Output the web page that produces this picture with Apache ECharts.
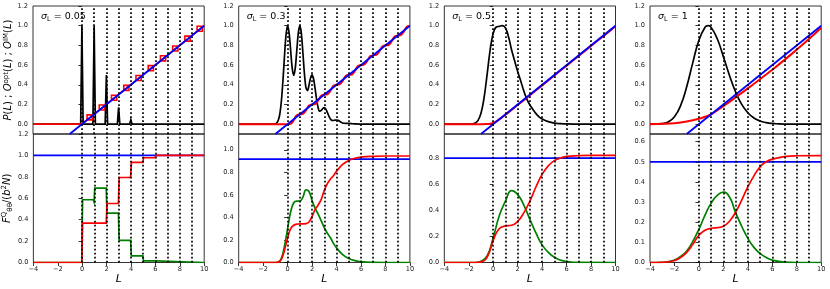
<!DOCTYPE html>
<html><head><meta charset="utf-8">
<script src="https://cdn.jsdelivr.net/npm/echarts@6/dist/echarts.min.js"></script>
<style>html,body{margin:0;padding:0;background:#fff}#c{width:830px;height:289px}</style>
</head><body><div id="c"></div>
<script>
// ---------- data ----------
const sigmaLabels = ['0.05', '0.3', '0.5', '1'];
const dottedL = [0, 1, 2, 3, 4, 5, 6, 7, 8, 9];
const topYTicks = [0, 0.2, 0.4, 0.6, 0.8, 1.0, 1.2];
const bottomYMax = [1.2, 1.14, 0.984, 0.638];
const bottomYTicks = [
  [0, 0.2, 0.4, 0.6, 0.8, 1.0, 1.2],
  [0, 0.2, 0.4, 0.6, 0.8, 1.0],
  [0, 0.2, 0.4, 0.6, 0.8],
  [0, 0.1, 0.2, 0.3, 0.4, 0.5, 0.6]
];

// O^IM(L) (blue, top panels)
const blueTopL = [-1, 10];
const blueTopV = [-0.1, 1.0];
// blue levels in bottom panels
const blueBottomL = [-4, 10];
const blueBottomV = [1.0, 0.917, 0.80, 0.50];

// ----- sigma = 0.05 -----
const black1L = [-4, -0.1, 0, 0.1, 0.9, 1, 1.1, 1.9, 2, 2.1, 2.9, 3, 3.1, 3.9, 4, 4.1, 4.9, 5, 5.1, 10];
const black1V = [0, 0, 1.0, 0, 0, 1.0, 0, 0, 0.5, 0, 0, 0.17, 0, 0, 0.045, 0, 0, 0.01, 0, 0];
const red1L = [-4, 0,
  0.42, 0.85, 0.85, 0.42, 0.42,
  1.42, 1.85, 1.85, 1.42, 1.42,
  2.42, 2.85, 2.85, 2.42, 2.42,
  3.42, 3.85, 3.85, 3.42, 3.42,
  4.42, 4.85, 4.85, 4.42, 4.42,
  5.42, 5.85, 5.85, 5.42, 5.42,
  6.42, 6.85, 6.85, 6.42, 6.42,
  7.42, 7.85, 7.85, 7.42, 7.42,
  8.42, 8.85, 8.85, 8.42, 8.42,
  9.42, 9.85, 9.85, 9.42, 9.42,
  10];
const red1V = [0, 0,
  0.043, 0.043, 0.094, 0.094, 0.043,
  0.143, 0.143, 0.194, 0.194, 0.143,
  0.243, 0.243, 0.294, 0.294, 0.243,
  0.343, 0.343, 0.394, 0.394, 0.343,
  0.443, 0.443, 0.494, 0.494, 0.443,
  0.543, 0.543, 0.594, 0.594, 0.543,
  0.643, 0.643, 0.694, 0.694, 0.643,
  0.743, 0.743, 0.794, 0.794, 0.743,
  0.843, 0.843, 0.894, 0.894, 0.843,
  0.943, 0.943, 0.994, 0.994, 0.943,
  1.0];
const green1bL = [-4, -0.03, 0.03, 0.9, 0.97, 1.03, 1.97, 2.03, 2.97, 3.03, 3.97, 4.03, 4.97, 5.03, 5.97, 6.03, 10];
const green1bV = [0, 0, 0.586, 0.586, 0.565, 0.695, 0.695, 0.461, 0.461, 0.206, 0.206, 0.062, 0.062, 0.016, 0.016, 0.0, 0];
const red1bL = [-4, -0.03, 0.03, 1.97, 2.03, 2.97, 3.03, 3.97, 4.03, 4.97, 5.03, 5.97, 6.03, 10];
const red1bV = [0, 0, 0.368, 0.368, 0.551, 0.551, 0.794, 0.794, 0.935, 0.935, 0.978, 0.978, 1.0, 1.0];

// ----- sigma = 0.3 -----
const black2L = [-4, -1.25, -1, -0.875, -0.75, -0.625, -0.5, -0.375, -0.25, -0.125, 0, 0.125, 0.25, 0.375, 0.5, 0.625, 0.75, 0.875, 1,
  1.125, 1.25, 1.375, 1.5, 1.625, 1.75, 1.875, 2, 2.125, 2.25, 2.375, 2.5, 2.625, 2.75, 2.875, 3, 3.125, 3.25, 3.375, 3.5,
  3.625, 3.75, 3.875, 4, 4.125, 4.25, 4.375, 4.5, 4.625, 4.75, 4.875, 5, 5.25, 5.5, 6, 7, 10];
const black2V = [0, 0, 0.004, 0.014, 0.044, 0.113, 0.248, 0.455, 0.703, 0.912, 0.998, 0.925, 0.747, 0.569, 0.495, 0.569, 0.747, 0.926, 1.0,
  0.920, 0.725, 0.512, 0.371, 0.341, 0.396, 0.470, 0.501, 0.459, 0.359, 0.247, 0.165, 0.132, 0.139, 0.159, 0.168, 0.153, 0.119, 0.081, 0.052,
  0.038, 0.037, 0.041, 0.042, 0.038, 0.030, 0.020, 0.012, 0.009, 0.008, 0.008, 0.008, 0.005, 0.002, 0.001, 0, 0];
const red2L = [-4, -0.25, 0, 0.25, 0.5, 0.75, 1, 1.25, 1.5, 1.75, 2, 2.25, 2.5, 2.75, 3, 3.25, 3.5, 3.75, 4, 4.25, 4.5, 4.75,
  5, 5.25, 5.5, 5.75, 6, 6.25, 6.5, 6.75, 7, 7.25, 7.5, 7.75, 8, 8.25, 8.5, 8.75, 9, 9.25, 9.5, 9.75, 10];
const red2V = [0, 0, 0, 0.004, 0.04, 0.09, 0.1, 0.104, 0.14, 0.19, 0.2, 0.204, 0.24, 0.29, 0.3, 0.304, 0.34, 0.39, 0.4, 0.404, 0.44, 0.49,
  0.5, 0.504, 0.54, 0.59, 0.6, 0.604, 0.64, 0.69, 0.7, 0.704, 0.74, 0.79, 0.8, 0.804, 0.84, 0.89, 0.9, 0.904, 0.94, 0.99, 1.0];
const green2bL = [-4, -1, -0.75, -0.5, -0.25, 0, 0.25, 0.5, 0.75, 1, 1.25, 1.5, 1.75, 2, 2.25, 2.5, 2.75, 3, 3.25, 3.5, 3.75, 4, 4.5, 5, 5.5, 6, 7, 8, 10];
const green2bV = [0, 0, 0.005, 0.04, 0.15, 0.30, 0.45, 0.53, 0.545, 0.545, 0.58, 0.645, 0.63, 0.55, 0.48, 0.43, 0.37, 0.31, 0.26, 0.22, 0.17, 0.13, 0.07, 0.035, 0.017, 0.007, 0.001, 0, 0];
const red2bL = [-4, -1, -0.75, -0.5, -0.25, 0, 0.25, 0.5, 0.75, 1, 1.5, 1.75, 2, 2.25, 2.5, 2.75, 3, 3.25, 3.5, 3.75, 4, 4.5, 5, 5.5, 6, 7, 8, 10];
const red2bV = [0, 0, 0.003, 0.03, 0.11, 0.22, 0.30, 0.33, 0.34, 0.342, 0.345, 0.36, 0.41, 0.47, 0.51, 0.56, 0.64, 0.70, 0.74, 0.77, 0.81, 0.87, 0.905, 0.925, 0.935, 0.942, 0.945, 0.945];

// ----- sigma = 0.5 -----
const black3L = [-4, -2, -1.75, -1.5, -1.25, -1, -0.75, -0.5, -0.25, 0, 0.25, 0.5, 0.75, 1, 1.25, 1.5, 1.75, 2, 2.25, 2.5, 2.75, 3, 3.25, 3.5, 3.75, 4, 4.5, 5, 5.5, 6, 7, 10];
const black3V = [0, 0, 0.002, 0.009, 0.036, 0.110, 0.266, 0.503, 0.754, 0.923, 0.987, 0.993, 1.0, 0.978, 0.887, 0.756, 0.644, 0.535, 0.439, 0.338, 0.255, 0.195, 0.149, 0.107, 0.075, 0.053, 0.026, 0.011, 0.005, 0.002, 0, 0];
const red3L = [-4, -1, -0.5, -0.25, 0, 0.25, 0.5, 1, 2, 3, 4, 5, 6, 7, 8, 9, 10];
const red3V = [0, 0, 0.001, 0.004, 0.012, 0.028, 0.048, 0.095, 0.194, 0.294, 0.394, 0.494, 0.594, 0.694, 0.794, 0.894, 0.994];
const green3bL = [-4, -1.5, -1, -0.5, 0, 0.5, 1, 1.5, 2, 2.5, 3, 3.5, 4, 4.5, 5, 5.5, 6, 7, 10];
const green3bV = [0, 0, 0.01, 0.05, 0.19, 0.36, 0.47, 0.55, 0.52, 0.44, 0.33, 0.225, 0.135, 0.078, 0.04, 0.018, 0.008, 0.001, 0];
const red3bL = [-4, -1.5, -1, -0.5, 0, 0.5, 1, 1.5, 2, 2.5, 3, 3.5, 4, 4.5, 5, 5.5, 6, 7, 8, 10];
const red3bV = [0, 0, 0.005, 0.04, 0.17, 0.26, 0.28, 0.285, 0.315, 0.38, 0.47, 0.58, 0.675, 0.74, 0.78, 0.80, 0.812, 0.818, 0.82, 0.82];

// ----- sigma = 1 -----
const black4L = [-4, -3.5, -3, -2.5, -2, -1.5, -1, -0.5, 0, 0.5, 0.75, 1, 1.5, 2, 2.5, 3, 3.5, 4, 4.5, 5, 5.5, 6, 6.5, 7, 8, 10];
const black4V = [0.0002, 0.0012, 0.006, 0.023, 0.075, 0.188, 0.380, 0.625, 0.852, 0.984, 1.0, 0.983, 0.867, 0.686, 0.494, 0.327, 0.201, 0.116, 0.063, 0.032, 0.016, 0.007, 0.003, 0.001, 0, 0];
const red4L = [-4, -3, -2, -1, 0, 0.5, 1, 2, 3, 4, 5, 6, 7, 8, 9, 10];
const red4V = [0, 0.003, 0.01, 0.027, 0.054, 0.075, 0.1, 0.183, 0.272, 0.363, 0.457, 0.553, 0.653, 0.757, 0.865, 0.98];
const green4bL = [-4, -3, -2.5, -2, -1.5, -1, -0.5, 0, 0.5, 1, 1.5, 2, 2.5, 3, 3.5, 4, 4.5, 5, 5.5, 6, 7, 8, 10];
const green4bV = [0, 0.001, 0.004, 0.012, 0.03, 0.057, 0.105, 0.165, 0.235, 0.295, 0.333, 0.349, 0.325, 0.248, 0.18, 0.12, 0.075, 0.045, 0.025, 0.012, 0.002, 0, 0];
const red4bL = [-4, -3, -2.5, -2, -1.5, -1, -0.5, 0, 0.5, 1, 1.5, 2, 2.5, 3, 3.5, 4, 4.5, 5, 5.5, 6, 7, 8, 10];
const red4bV = [0, 0.001, 0.003, 0.01, 0.025, 0.05, 0.09, 0.135, 0.16, 0.17, 0.173, 0.18, 0.205, 0.25, 0.31, 0.375, 0.43, 0.475, 0.50, 0.513, 0.526, 0.53, 0.531];

const topBlack = [[black1L, black1V, false], [black2L, black2V, 0.3], [black3L, black3V, 0.4], [black4L, black4V, 0.5]];
const topRed = [[red1L, red1V, false], [red2L, red2V, 0.4], [red3L, red3V, 0.3], [red4L, red4V, 0.4]];
const botGreen = [[green1bL, green1bV, false], [green2bL, green2bV, 0.4], [green3bL, green3bV, 0.5], [green4bL, green4bV, 0.5]];
const botRed = [[red1bL, red1bV, false], [red2bL, red2bV, 0.4], [red3bL, red3bV, 0.5], [red4bL, red4bV, 0.5]];

// ---------- layout / style ----------
const FONT = 'DejaVu Sans';
const lefts = [33, 238.7, 444.3, 650];
const W = 171.2;
const TOP_T = 6, TOP_H = 128, BOT_T = 134, BOT_H = 128.5;
const C_BLACK = '#000000', C_RED = '#ff0000', C_BLUE = '#0000ff', C_GREEN = '#008000';

const pairs = (xs, ys) => xs.map((x, i) => [x, ys[i]]);
const fmtNum = v => { const s = (Math.round(v * 10) / 10).toFixed(1); return s.replace('-', '\u2212'); };

const grids = [], xAxes = [], yAxes = [], series = [], graphics = [];

function lineSeries(gi, xs, ys, color, width, smooth, z) {
  return {
    type: 'line', xAxisIndex: gi, yAxisIndex: gi, data: pairs(xs, ys),
    symbol: 'none', showSymbol: false, smooth: smooth || false, clip: true,
    lineStyle: { color: color, width: width, cap: 'butt', join: 'miter' }, z: z || 2, silent: true
  };
}
function dotted(gi) {
  return {
    type: 'line', xAxisIndex: gi, yAxisIndex: gi, data: [], symbol: 'none', z: 6, silent: true,
    markLine: {
      silent: true, symbol: ['none', 'none'], animation: false, label: { show: false },
      lineStyle: { color: '#000', width: 1.7, type: [1.7, 2.3], opacity: 1 },
      emphasis: { disabled: true },
      data: dottedL.map(v => ({ xAxis: v }))
    }
  };
}

const tickStyle = { show: true, inside: false, length: 3.5, lineStyle: { color: '#000', width: 0.8 } };
const labStyle = { color: '#222', fontSize: 6.6, fontFamily: FONT };

for (let p = 0; p < 4; p++) {
  const gt = 2 * p, gb = 2 * p + 1;
  grids.push({ left: lefts[p], top: TOP_T, width: W, height: TOP_H, show: true, borderColor: '#000', borderWidth: 0.8, backgroundColor: 'transparent' });
  grids.push({ left: lefts[p], top: BOT_T, width: W, height: BOT_H, show: true, borderColor: '#000', borderWidth: 0.8, backgroundColor: 'transparent' });

  xAxes.push({ type: 'value', gridIndex: gt, min: -4, max: 10, interval: 2, axisLine: { show: false }, axisTick: { show: false }, axisLabel: { show: false }, splitLine: { show: false } });
  xAxes.push({
    type: 'value', gridIndex: gb, min: -4, max: 10, interval: 2,
    axisLine: { show: false }, axisTick: tickStyle, splitLine: { show: false },
    axisLabel: Object.assign({ margin: 3.5, formatter: v => String(v).replace('-', '\u2212') }, labStyle),
    name: 'L', nameLocation: 'middle', nameGap: 9,
    nameTextStyle: { fontStyle: 'italic', fontSize: 11, fontFamily: FONT, color: '#000' }
  });

  const yTop = {
    type: 'value', gridIndex: gt, min: -0.1, max: 1.2,
    axisLine: { show: false }, splitLine: { show: false },
    axisTick: Object.assign({ customValues: topYTicks }, tickStyle),
    axisLabel: Object.assign({ margin: 5, customValues: topYTicks, formatter: fmtNum }, labStyle)
  };
  const yBot = {
    type: 'value', gridIndex: gb, min: 0, max: bottomYMax[p],
    axisLine: { show: false }, splitLine: { show: false },
    axisTick: Object.assign({ customValues: bottomYTicks[p] }, tickStyle),
    axisLabel: Object.assign({ margin: 5, customValues: bottomYTicks[p], formatter: fmtNum }, labStyle)
  };
  if (p === 0) {
    yTop.name = '{i|P}({i|L}) ; {i|O}{sup|opt}({i|L}) ; {i|O}{sup|IM}({i|L})';
    yTop.nameLocation = 'middle'; yTop.nameRotate = 90; yTop.nameGap = 16;
    yTop.nameTextStyle = {
      fontSize: 10, fontFamily: FONT, color: '#000',
      rich: {
        i: { fontStyle: 'italic', fontSize: 10, fontFamily: FONT, color: '#000' },
        sup: { fontSize: 7, fontFamily: FONT, color: '#000', verticalAlign: 'top', lineHeight: 12 }
      }
    };
    yBot.name = '{i|F}{sup|Q}{sub|\u03b8\u03b8}/({i|b}{sup|2}{i|N})';
    yBot.nameLocation = 'middle'; yBot.nameRotate = 90; yBot.nameGap = 16;
    yBot.nameTextStyle = {
      fontSize: 10, fontFamily: FONT, color: '#000',
      rich: {
        i: { fontStyle: 'italic', fontSize: 10, fontFamily: FONT, color: '#000' },
        sup: { fontSize: 7, fontFamily: FONT, color: '#000', verticalAlign: 'top', lineHeight: 13 },
        sub: { fontSize: 7, fontFamily: FONT, color: '#000', verticalAlign: 'bottom', lineHeight: 13 }
      }
    };
  }
  yAxes.push(yTop, yBot);

  // top panel
  const bk = topBlack[p], rd = topRed[p];
  series.push(lineSeries(gt, bk[0], bk[1], C_BLACK, 1.7, bk[2], 2));
  series.push(lineSeries(gt, rd[0], rd[1], C_RED, p === 0 ? 1.6 : 2, rd[2], 3));
  series.push(lineSeries(gt, blueTopL, blueTopV, C_BLUE, 1.8, false, 4));
  series.push(dotted(gt));
  // bottom panel
  const gr = botGreen[p], rb = botRed[p];
  series.push(lineSeries(gb, blueBottomL, [blueBottomV[p], blueBottomV[p]], C_BLUE, 1.8, false, 2));
  series.push(lineSeries(gb, gr[0], gr[1], C_GREEN, 1.7, gr[2], 3));
  series.push(lineSeries(gb, rb[0], rb[1], C_RED, 1.7, rb[2], 4));
  series.push(dotted(gb));

  graphics.push({
    type: 'text', left: lefts[p] + 8, top: 11.5, z: 10, silent: true,
    style: {
      text: '{s|\u03c3}{sub|L}{n| = ' + sigmaLabels[p] + '}',
      rich: {
        s: { fontStyle: 'italic', fontSize: 9.5, fontFamily: FONT, fill: '#000', verticalAlign: 'top', lineHeight: 11 },
        sub: { fontSize: 6.5, fontFamily: FONT, fill: '#000', verticalAlign: 'bottom', lineHeight: 11 },
        n: { fontSize: 9.5, fontFamily: FONT, fill: '#000', verticalAlign: 'top', lineHeight: 11 }
      }
    }
  });
}

const chart = echarts.init(document.getElementById('c'), null, { renderer: 'canvas' });
chart.setOption({
  animation: false,
  backgroundColor: '#ffffff',
  grid: grids, xAxis: xAxes, yAxis: yAxes, series: series, graphic: graphics
});
</script></body></html>
